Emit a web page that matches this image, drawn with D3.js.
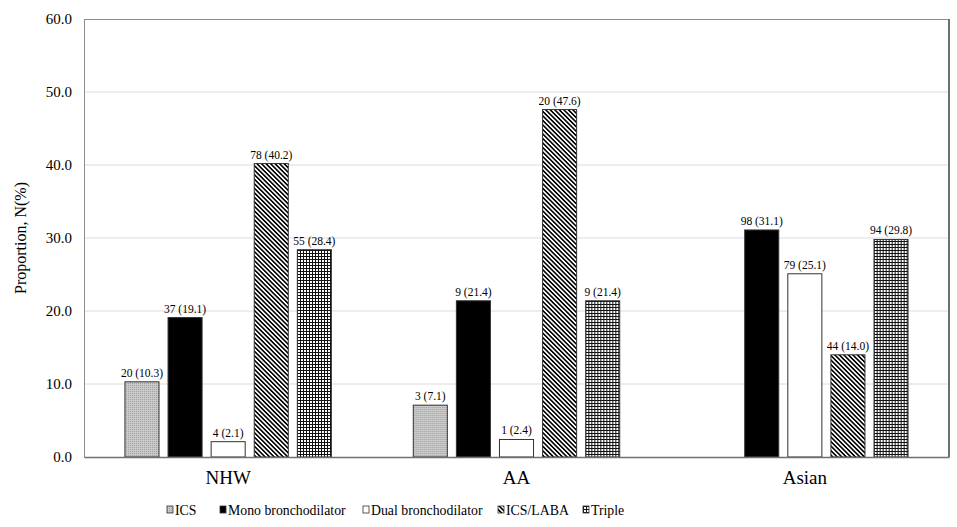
<!DOCTYPE html>
<html>
<head>
<meta charset="utf-8">
<script src="https://cdn.jsdelivr.net/npm/d3@7"></script>
<style>
  body { margin: 0; background: #fff; }
  text { font-family: "Liberation Serif", "Times New Roman", serif; fill: #000; }
</style>
</head>
<body>
<div id="chart"></div>
<script>
// data
var groups = ["NHW", "AA", "Asian"];
var series = ["ICS", "Mono bronchodilator", "Dual bronchodilator", "ICS/LABA", "Triple"];
var pct = [
  [10.3, 19.1, 2.1, 40.2, 28.4],
  [7.1, 21.4, 2.4, 47.6, 21.4],
  [null, 31.1, 25.1, 14.0, 29.8]
];
var counts = [
  [20, 37, 4, 78, 55],
  [3, 9, 1, 20, 9],
  [null, 98, 79, 44, 94]
];
var yTicks = [0, 10, 20, 30, 40, 50, 60];

var W = 957, H = 527;
var margin = {top: 19, right: 8, bottom: 70, left: 84};
var w = W - margin.left - margin.right;
var h = H - margin.top - margin.bottom;

var svg = d3.select("#chart").append("svg")
  .attr("width", W)
  .attr("height", H);

// fill patterns
var defs = svg.append("defs");

var pIcs = defs.append("pattern").attr("id", "p0")
  .attr("patternUnits", "userSpaceOnUse").attr("width", 2).attr("height", 2);
pIcs.append("rect").attr("width", 2).attr("height", 2).attr("fill", "#cacaca");
pIcs.append("rect").attr("width", 1).attr("height", 1).attr("fill", "#a0a0a0");

var pLaba = defs.append("pattern").attr("id", "p3")
  .attr("patternUnits", "userSpaceOnUse").attr("width", 3.2).attr("height", 10)
  .attr("patternTransform", "rotate(-45)");
pLaba.append("rect").attr("width", 3.2).attr("height", 10).attr("fill", "#fff");
pLaba.append("rect").attr("width", 1.6).attr("height", 10).attr("fill", "#000");

var pTriple = defs.append("pattern").attr("id", "p4")
  .attr("patternUnits", "userSpaceOnUse").attr("width", 3).attr("height", 3);
pTriple.append("rect").attr("width", 3).attr("height", 3).attr("fill", "#fff");
pTriple.append("rect").attr("width", 3).attr("height", 1).attr("fill", "#111");
pTriple.append("rect").attr("width", 1).attr("height", 3).attr("fill", "#111");

var fills = ["url(#p0)", "#000", "#fff", "url(#p3)", "url(#p4)"];

var g = svg.append("g").attr("transform", "translate(" + margin.left + "," + margin.top + ")");

var x0 = d3.scaleBand().domain(groups).range([0, w]);
var x1 = d3.scaleBand().domain(series).range([0, x0.bandwidth()])
  .paddingInner(0.21).paddingOuter(0.95);
var y = d3.scaleLinear().domain([0, 60]).range([h, 0]);

// gridlines
g.append("g").selectAll("line")
  .data(yTicks.filter(function(d) { return d > 0 && d < 60; }))
  .enter().append("line")
  .attr("x1", 0).attr("x2", w)
  .attr("y1", function(d) { return y(d); })
  .attr("y2", function(d) { return y(d); })
  .attr("stroke", "#dcdcdc").attr("stroke-width", 1);

// frame
g.append("line").attr("x1", 0).attr("x2", w).attr("y1", 0.5).attr("y2", 0.5)
  .attr("stroke", "#8c8c8c");
g.append("line").attr("x1", w).attr("x2", w).attr("y1", 0).attr("y2", h)
  .attr("stroke", "#707070").attr("stroke-width", 2);

// y axis
var yAxis = g.append("g")
  .call(d3.axisLeft(y).tickValues(yTicks).tickFormat(d3.format(".1f")).tickSize(0).tickPadding(12));
yAxis.select(".domain").attr("stroke", "#8c8c8c");
yAxis.selectAll("text").style("font-size", "15px").style("font-family", "Liberation Serif");

// bars
var grp = g.selectAll(".grp")
  .data(groups)
  .enter().append("g")
  .attr("class", "grp")
  .attr("transform", function(d) { return "translate(" + x0(d) + ",0)"; });

grp.selectAll("rect")
  .data(function(d, i) {
    return series.map(function(s, j) { return {s: s, j: j, v: pct[i][j], n: counts[i][j]}; })
      .filter(function(e) { return e.v != null; });
  })
  .enter().append("rect")
  .attr("x", function(d) { return x1(d.s); })
  .attr("y", function(d) { return y(d.v); })
  .attr("width", x1.bandwidth())
  .attr("height", function(d) { return h - y(d.v); })
  .attr("fill", function(d) { return fills[d.j]; })
  .attr("stroke", "#333")
  .attr("stroke-width", 1);

grp.selectAll(".val")
  .data(function(d, i) {
    return series.map(function(s, j) { return {s: s, j: j, v: pct[i][j], n: counts[i][j]}; })
      .filter(function(e) { return e.v != null; });
  })
  .enter().append("text")
  .attr("class", "val")
  .attr("x", function(d) { return x1(d.s) + x1.bandwidth() / 2; })
  .attr("y", function(d) { return y(d.v) - 5; })
  .attr("text-anchor", "middle")
  .style("font-size", "11.5px")
  .text(function(d) { return d.n + " (" + d.v.toFixed(1) + ")"; });

// x axis
var xAxis = g.append("g")
  .attr("transform", "translate(0," + h + ")")
  .call(d3.axisBottom(x0).tickSize(0).tickPadding(14));
xAxis.select(".domain").attr("stroke", "#707070").attr("stroke-width", 1.5);
xAxis.selectAll("text").style("font-size", "19px").style("font-family", "Liberation Serif");

// y label
svg.append("text")
  .attr("transform", "translate(26," + (margin.top + h / 2) + ") rotate(-90)")
  .attr("text-anchor", "middle")
  .style("font-size", "16px")
  .text("Proportion, N(%)");

// legend
var legX = [167, 220, 363, 498, 583];
var leg = svg.append("g").selectAll("g")
  .data(series)
  .enter().append("g")
  .attr("transform", function(d, i) { return "translate(" + legX[i] + ",506)"; });
leg.append("rect")
  .attr("width", 6).attr("height", 7)
  .attr("fill", function(d, i) { return fills[i]; })
  .attr("stroke", "#333").attr("stroke-width", 0.8);
leg.append("text")
  .attr("x", 8).attr("y", 8.5)
  .style("font-size", "13.8px")
  .text(function(d) { return d; });
</script>
</body>
</html>
